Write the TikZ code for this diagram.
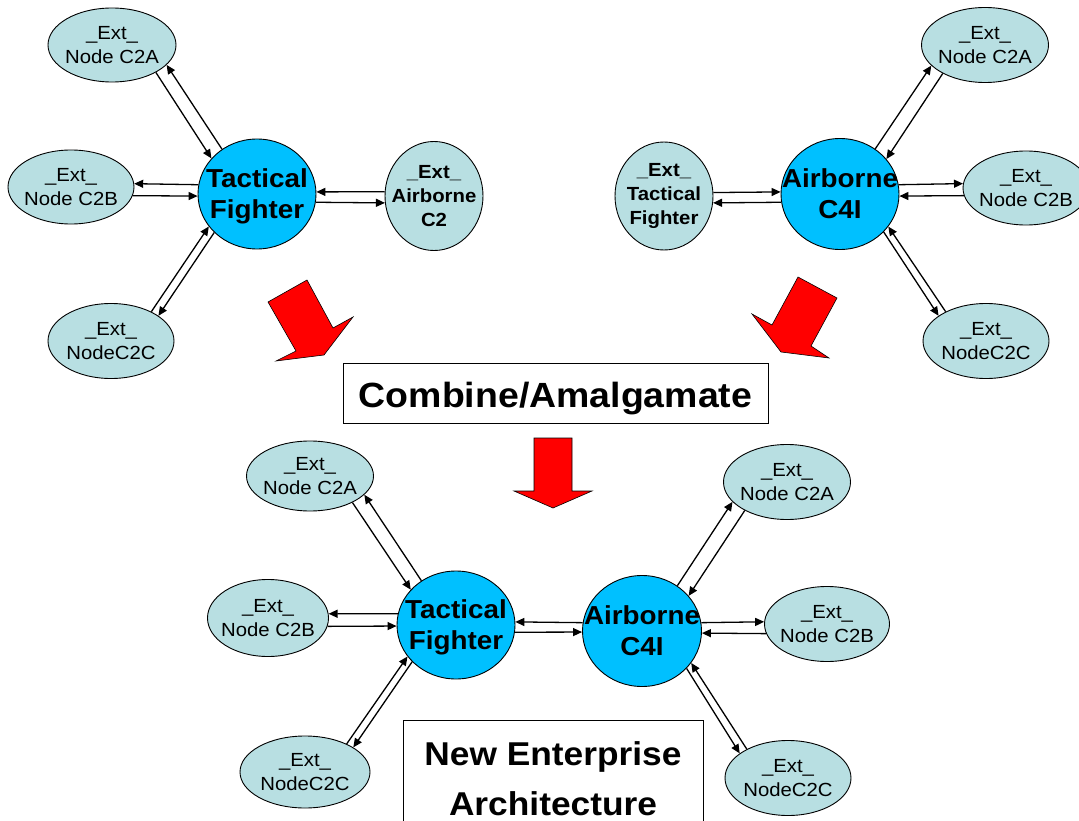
\documentclass[tikz,border=0pt]{standalone}
\usepackage{fontspec}
\setmainfont{Liberation Sans}[FakeStretch=1.07]
\usetikzlibrary{arrows.meta,shapes.geometric}
\definecolor{hubfill}{RGB}{0,192,255}
\definecolor{extfill}{RGB}{184,223,226}
\definecolor{blockred}{RGB}{255,0,0}

\begin{document}
\begin{tikzpicture}[x=1pt,y=-1pt,
  hub/.style={ellipse,draw=black,line width=0.9pt,fill=hubfill,inner sep=0pt,
    minimum width=118pt,minimum height=110pt},
  hubtext/.style={font=\fontsize{26}{31}\selectfont\bfseries,align=center,
    text depth=0pt,inner sep=0pt},
  ext/.style={ellipse,draw=black,line width=0.9pt,fill=extfill,inner sep=0pt,
    minimum width=127pt,minimum height=74pt},
  exttext/.style={font=\fontsize{19}{24}\selectfont,align=center,inner sep=0pt},
  extbold/.style={exttext,font=\fontsize{19}{24}\selectfont\bfseries},
  link/.style={line width=1.3pt,-{Triangle[length=9pt,width=8pt]}},
  block/.style={fill=blockred,draw=black,line width=0.6pt,line join=miter},
  caption/.style={draw=black,line width=0.9pt,inner sep=0pt,align=center}
]
\clip (0,0) rectangle (1079,821);

% ---------- red block arrows ----------
\draw[block] (268,302) -- (307,280) -- (333,328) -- (353,317) -- (324,355)
  -- (276,361) -- (296,351) -- cycle;
\draw[block] (798,277) -- (837,298) -- (811,346) -- (829,358) -- (781,352)
  -- (752,314) -- (772,325) -- cycle;
\draw[block] (534,438) -- (572,438) -- (572,491) -- (592,491) -- (553,508)
  -- (514,491) -- (534,491) -- cycle;

% ---------- Tactical Fighter view ----------
\node[hub, label={[hubtext]center:Tactical\\Fighter}] (tf1) at (257,194) {};
\node[ext, minimum width=128pt, label={[exttext]center:\_Ext\_\\Node C2A}] (a1) at (112,45) {};
\node[ext, minimum width=126pt, label={[exttext]center:\_Ext\_\\Node C2B}] (b1) at (71,187) {};
\node[ext, minimum width=126pt, minimum height=75pt, label={[exttext]center:\_Ext\_\\NodeC2C}] (c1) at (111,341) {};
\node[ext, minimum width=98pt, minimum height=109pt, label={[extbold]center:\_Ext\_\\Airborne\\C2}] (ab1) at (434,196) {};

\draw[link] (a1.328) -- (tf1.142);
\draw[link] (tf1.128) -- (a1.340);
\draw[link] (tf1.171) -- (b1.3);
\draw[link] (b1.352) -- (tf1.182);
\draw[link] (c1.36) -- (tf1.214);
\draw[link] (tf1.222) -- (c1.28);
\draw[link] (ab1.175) -- (tf1.2);
\draw[link] (tf1.352) -- (ab1.188);

% ---------- Airborne C4I view ----------
\node[hub, minimum height=111pt, label={[hubtext]center:Airborne\\C4I}] (ac1) at (840,194) {};
\node[ext, minimum width=98pt, minimum height=108pt, label={[extbold]center:\_Ext\_\\Tactical\\Fighter}] (tfx) at (664,196) {};
\node[ext, minimum height=75pt, label={[exttext]center:\_Ext\_\\Node C2A}] (a2) at (985,45) {};
\node[ext, minimum width=126pt, label={[exttext]center:\_Ext\_\\Node C2B}] (b2) at (1026,188) {};
\node[ext, minimum width=126pt, minimum height=75pt, label={[exttext]center:\_Ext\_\\NodeC2C}] (c2) at (986,341) {};

\draw[link] (tfx.4) -- (ac1.178);
\draw[link] (ac1.188) -- (tfx.352);
\draw[link] (ac1.9) -- (b2.176);
\draw[link] (b2.187) -- (ac1.358);
\draw[link] (ac1.52) -- (a2.201);
\draw[link] (a2.214) -- (ac1.37);
\draw[link] (c2.144) -- (ac1.326);
\draw[link] (ac1.319) -- (c2.152);

% ---------- captions ----------
\node[caption, font=\fontsize{35}{42}\selectfont\bfseries, minimum width=425pt,
  minimum height=60pt, text height=28pt, text depth=0pt] (combine) at (555.5,393) {Combine/Amalgamate};
\node[caption, font=\fontsize{33}{50}\selectfont\bfseries, minimum width=300pt,
  minimum height=118pt] (nea) at (553,779) {New Enterprise\\Architecture};

% ---------- combined architecture ----------
\node[hub, minimum height=108pt, label={[hubtext]center:Tactical\\Fighter}] (tf3) at (456,625) {};
\node[hub, minimum width=119pt, minimum height=111pt, label={[hubtext]center:Airborne\\C4I}] (ac3) at (642,631) {};
\node[ext, minimum height=70pt, label={[exttext]center:\_Ext\_\\Node C2A}] (a3) at (310,476) {};
\node[ext, minimum width=121pt, minimum height=77pt, label={[exttext]center:\_Ext\_\\Node C2B}] (b3) at (268,618) {};
\node[ext, minimum width=130pt, minimum height=72pt, label={[exttext]center:\_Ext\_\\NodeC2C}] (c3) at (305,772) {};
\node[ext, minimum height=75pt, label={[exttext]center:\_Ext\_\\Node C2A}] (a4) at (787,482) {};
\node[ext, minimum width=125pt, minimum height=75pt, label={[exttext]center:\_Ext\_\\Node C2B}] (b4) at (827,624) {};
\node[ext, minimum width=126pt, minimum height=75pt, label={[exttext]center:\_Ext\_\\NodeC2C}] (c4) at (788,778) {};

\draw[link] (a3.328) -- (tf3.142);
\draw[link] (tf3.128) -- (a3.341);
\draw[link] (tf3.169) -- (b3.4);
\draw[link] (b3.352) -- (tf3.181);
\draw[link] (c3.34) -- (tf3.213);
\draw[link] (tf3.220) -- (c3.27);
\draw[link] (ac3.172) -- (tf3.3);
\draw[link] (tf3.353) -- (ac3.181);
\draw[link] (ac3.52) -- (a4.200);
\draw[link] (a4.214) -- (ac3.37);
\draw[link] (ac3.8) -- (b4.178);
\draw[link] (b4.189) -- (ac3.358);
\draw[link] (c4.145) -- (ac3.327);
\draw[link] (ac3.320) -- (c4.153);
\end{tikzpicture}
\end{document}
